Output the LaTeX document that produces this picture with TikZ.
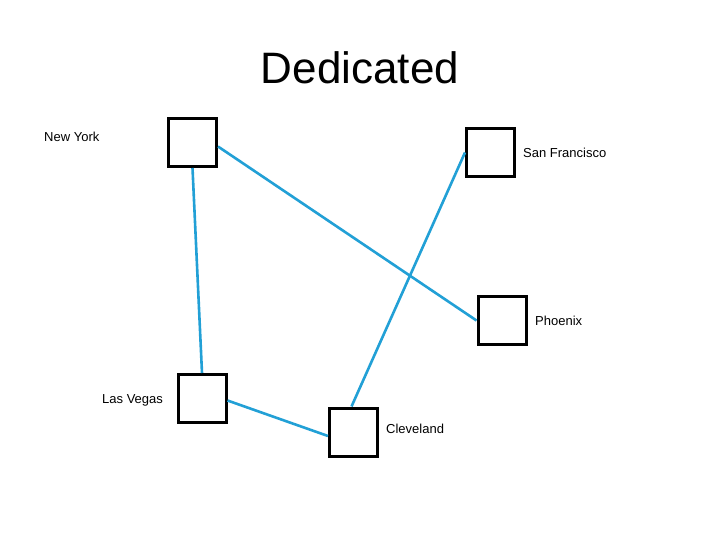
\documentclass[tikz,border=0pt]{standalone}
\usepackage{fontspec}
\setmainfont{Liberation Sans}
\definecolor{linkblue}{RGB}{34,160,214}
\begin{document}
\begin{tikzpicture}[x=1bp,y=-1bp,
  sitebox/.style={draw=black,line width=3bp,minimum size=48bp,inner sep=0pt,fill=white},
  link/.style={draw=linkblue,line width=2.6bp},
  lbl/.style={font=\fontsize{13bp}{16bp}\selectfont,inner sep=0pt}]
\useasboundingbox[fill=white] (0,0) rectangle (720,540);
\node[font=\fontsize{44bp}{50bp}\selectfont,inner sep=0pt] (title) at (360,68) {Dedicated};
\node[sitebox] (ny) at (192.5,142.5) {};
\node[sitebox] (sf) at (490.5,152.5) {};
\node[sitebox] (ph) at (502,320.5) {};
\node[sitebox] (lv) at (202,398.5) {};
\node[sitebox] (cl) at (353.5,432) {};
\node[lbl,anchor=west] (nyl) at (44,137) {New York};
\node[lbl,anchor=west] (sfl) at (523,153) {San Francisco};
\node[lbl,anchor=west] (phl) at (535,321) {Phoenix};
\node[lbl,anchor=west] (lvl) at (102,400) {Las Vegas};
\node[lbl,anchor=west] (cll) at (386,429) {Cleveland};
\draw[link] (ny.south) -- (lv.north);
\draw[link] ([yshift=-4bp]ny.east) -- (ph.west);
\draw[link] (sf.west) -- ([xshift=-2bp]cl.north);
\draw[link] ([yshift=-2bp]lv.east) -- ([yshift=-4bp]cl.west);
\end{tikzpicture}
\end{document}
